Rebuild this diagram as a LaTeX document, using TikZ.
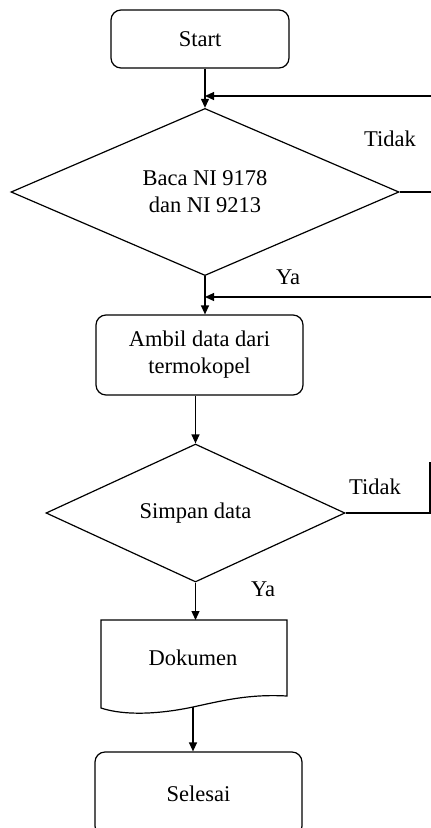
\documentclass[tikz,border=0pt]{standalone}
\usepackage{fontspec}
\setmainfont{Liberation Serif}
\usetikzlibrary{shapes.geometric,arrows.meta}
\begin{document}
\begin{tikzpicture}[x=1pt,y=-1pt,
  line width=1.2pt,
  every node/.style={font=\fontsize{22.5}{27}\selectfont, align=center},
  term/.style={draw, rounded corners=10pt, inner sep=0pt},
  dec/.style={draw, diamond, inner sep=0pt},
  arr/.style={-{Triangle[length=9pt,width=8pt]}},
  lbl/.style={inner sep=0pt}
]
\useasboundingbox (0,0) rectangle (431,828);
\clip (0,0) rectangle (431,828);
% nodes
\node[term, minimum width=178pt, minimum height=58pt] (start) at (200,39) {Start};
\node[dec, minimum width=388pt, minimum height=147pt] (d1) at (205,192) {Baca NI 9178\\dan NI 9213};
\node[term, minimum width=207pt, minimum height=80pt] (ambil) at (199.5,355) {Ambil data dari\\termokopel};
\node[dec, minimum width=299pt, minimum height=138pt] (d2) at (195.5,513) {Simpan data};
\draw (101,620) -- (287,620) -- (287,696) .. controls (250,694) and (225,700) .. (193,707) .. controls (160,714) and (125,716) .. (101,708) -- cycle;
\node (dok) at (193,658) {Dokumen};
\coordinate (doktop) at (193,620);
\coordinate (dokbot) at (193,707);
\node[term, minimum width=207pt, minimum height=84pt] (end) at (198.5,794) {Selesai};
% labels
\node[lbl] (t1) at (390,139) {Tidak};
\node[lbl] (ya1) at (288,277) {Ya};
\node[lbl] (t2) at (375,487) {Tidak};
\node[lbl] (ya2) at (263,589) {Ya};
% free ends at the right edge
\coordinate (r1) at (431,96);
\coordinate (r2) at (431,297);
\coordinate (r3) at (430,462);
% connectors
\draw[arr] (d1.north |- start.south) -- (d1.north);
\draw[arr] (r1) -- (r1 -| d1.north);
\draw (d1.east) -- (d1.east -| r1);
\draw[arr] (d1.south) -- (d1.south |- ambil.north);
\draw[arr] (r2) -- (r2 -| d1.south);
\draw[arr] (ambil.south -| d2.north) -- (d2.north);
\draw (d2.east) -- (d2.east -| r3) -- (r3);
\draw[arr] (d2.south) -- (d2.south |- doktop);
\draw[arr] (dokbot) -- (dokbot |- end.north);
\end{tikzpicture}
\end{document}
